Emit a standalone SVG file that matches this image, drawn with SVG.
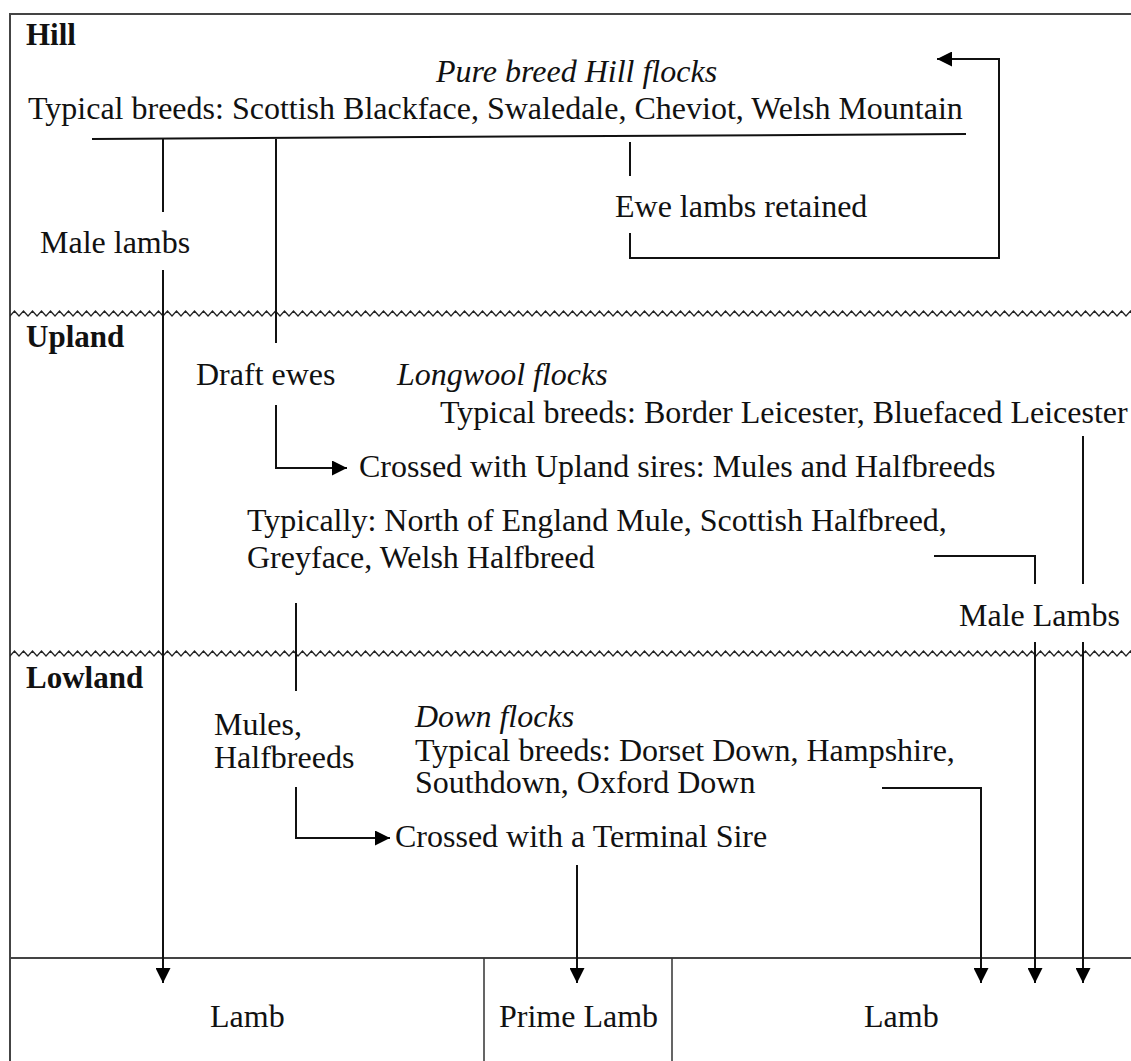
<svg xmlns="http://www.w3.org/2000/svg" width="1131" height="1061" viewBox="0 0 1131 1061">
<style>
text{font-family:"Liberation Serif","Times New Roman",serif;font-size:32px;fill:#111}
.b{font-weight:bold;font-size:31px}
.i{font-style:italic}
.frame{stroke:#444;stroke-width:2;fill:none}
.div{stroke:#333;stroke-width:1.5;fill:none}
.c{stroke:#111;stroke-width:2;fill:none}
.a{marker-end:url(#ah)}
.z{stroke:#222;stroke-width:1.3;fill:none}
</style>
<defs>
<marker id="ah" markerWidth="15" markerHeight="15" refX="15" refY="7.5" orient="auto" markerUnits="userSpaceOnUse"><path d="M0,0 L15,7.5 L0,15 z" fill="#000"/></marker>
<pattern id="zig" x="10" y="0" width="9" height="1061" patternUnits="userSpaceOnUse"><path class="z" d="M-4.5,0 L0,5 L4.5,0 L9,5 L13.5,0" transform="translate(0,311)"/><path class="z" d="M-4.5,0 L0,5 L4.5,0 L9,5 L13.5,0" transform="translate(0,651)"/></pattern>
</defs>
<g id="frame">
<path class="frame" d="M1131,14 H10 V1061"/>
<rect x="10" y="308" width="1121" height="11" fill="url(#zig)"/>
<rect x="10" y="648" width="1121" height="11" fill="url(#zig)"/>
<path class="frame" d="M10,958 H1131"/>
<path class="div" d="M484,958 V1061 M672,958 V1061"/>
</g>
<g id="zones">
<text class="b" x="26" y="45">Hill</text>
<text class="b" x="26" y="347">Upland</text>
<text class="b" x="26" y="688">Lowland</text>
</g>
<g id="hill-flocks">
<text class="i" x="436" y="82">Pure breed Hill flocks</text>
<text x="28" y="119">Typical breeds: Scottish Blackface, Swaledale, Cheviot, Welsh Mountain</text>
</g>
<g id="ewe-lambs"><text x="615" y="217">Ewe lambs retained</text></g>
<g id="male-lambs-hill"><text x="40" y="253">Male lambs</text></g>
<g id="draft-ewes"><text x="196" y="385">Draft ewes</text></g>
<g id="longwool-flocks">
<text class="i" x="397" y="385">Longwool flocks</text>
<text x="440" y="423">Typical breeds: Border Leicester, Bluefaced Leicester</text>
</g>
<g id="crossed-upland"><text x="359" y="477">Crossed with Upland sires: Mules and Halfbreeds</text></g>
<g id="typically">
<text x="247" y="531">Typically: North of England Mule, Scottish Halfbreed,</text>
<text x="247" y="568">Greyface, Welsh Halfbreed</text>
</g>
<g id="male-lambs-upland"><text x="959" y="626">Male Lambs</text></g>
<g id="mules-halfbreeds">
<text x="214" y="735">Mules,</text>
<text x="214" y="768">Halfbreeds</text>
</g>
<g id="down-flocks">
<text class="i" x="415" y="727">Down flocks</text>
<text x="415" y="761">Typical breeds: Dorset Down, Hampshire,</text>
<text x="415" y="793">Southdown, Oxford Down</text>
</g>
<g id="crossed-terminal"><text x="395" y="847">Crossed with a Terminal Sire</text></g>
<g id="lamb-left"><text x="210" y="1027">Lamb</text></g>
<g id="prime-lamb"><text x="499" y="1027">Prime Lamb</text></g>
<g id="lamb-right"><text x="864" y="1027">Lamb</text></g>
<g id="connectors">
<path class="c" d="M92,139 L966,134"/>
<path class="c" d="M163,139 V212"/>
<path class="c a" d="M163,270 V983"/>
<path class="c" d="M276,139 V343"/>
<path class="c" d="M630,142 V176"/>
<path class="c a" d="M630,233 V258 H999 V59 H937"/>
<path class="c a" d="M276,405 V468 H347"/>
<path class="c" d="M1083,436 V584"/>
<path class="c" d="M934,556 H1035 V584"/>
<path class="c a" d="M1035,642 V983"/>
<path class="c a" d="M1083,642 V983"/>
<path class="c" d="M296,603 V691"/>
<path class="c a" d="M296,787 V838 H390"/>
<path class="c a" d="M882,788 H981 V983"/>
<path class="c a" d="M577,865 V983"/>
</g>
</svg>
